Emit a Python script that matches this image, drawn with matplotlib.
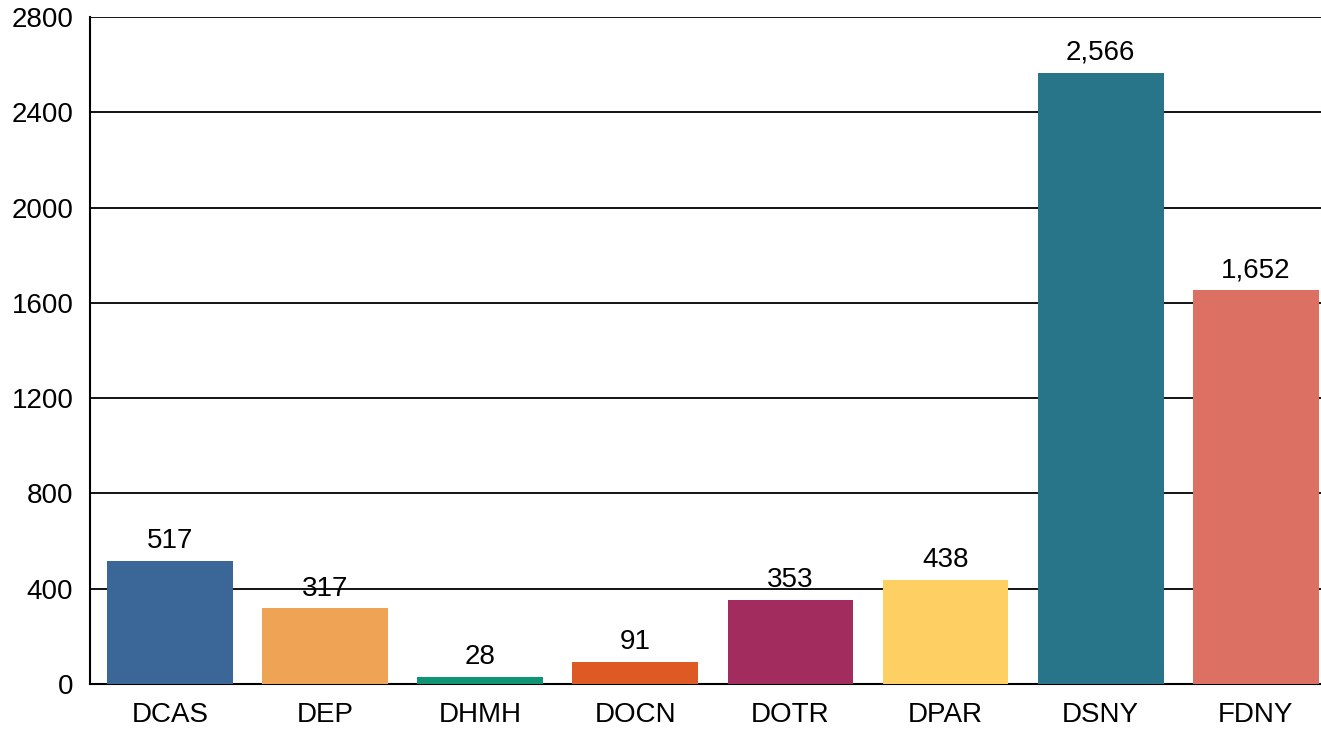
import matplotlib.pyplot as plt

plt.rcParams['font.family'] = ['Liberation Sans', 'DejaVu Sans']

agencies = ["DCAS", "DEP", "DHMH", "DOCN", "DOTR", "DPAR", "DSNY", "FDNY"]
counts = [517, 317, 28, 91, 353, 438, 2566, 1652]
colors = ["#3a6698", "#efa354", "#0f9475", "#dd5a24",
          "#a22c5e", "#fecf62", "#28758a", "#db7063"]

fig = plt.figure(figsize=(13.21, 7.3), dpi=100)
ax = fig.add_axes([90 / 1321, 1 - 684 / 730, 1231 / 1321, 667 / 730])

x = range(len(agencies))
bars = ax.bar(x, counts, width=0.81, color=colors, zorder=3)

for xi, v in zip(x, counts):
    ax.annotate(f"{v:,}", (xi, v), xytext=(0, 5), textcoords="offset points",
                ha="center", va="bottom", fontsize=20, zorder=2)

ax.set_ylim(0, 2800)
ax.set_yticks(range(0, 2801, 400))
ax.set_xlim(-0.515, 7.42)
ax.set_xticks(list(x))
ax.set_xticklabels(agencies)
ax.tick_params(axis="both", length=0, labelsize=20)
ax.tick_params(axis="x", pad=13)
ax.tick_params(axis="y", pad=12)
ax.grid(axis="y", color="black", linewidth=1.3, zorder=1)
for s in ["top", "right"]:
    ax.spines[s].set_visible(False)
ax.spines["left"].set_linewidth(1.5)
ax.spines["bottom"].set_linewidth(1.5)

fig.savefig("out.png", dpi=100)
